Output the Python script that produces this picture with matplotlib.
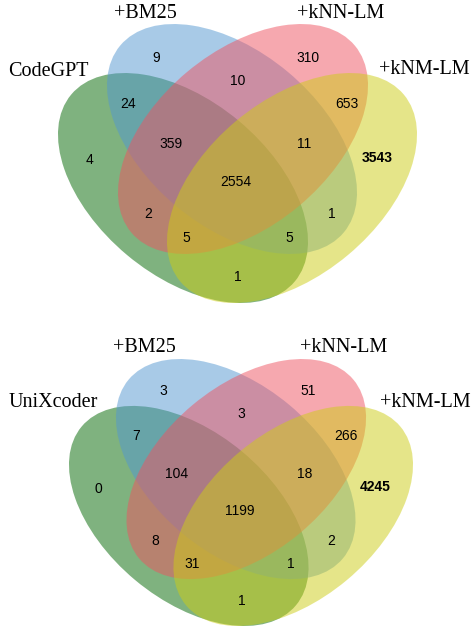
import matplotlib
matplotlib.use("Agg")
import matplotlib.pyplot as plt
from matplotlib.patches import Ellipse

# region keys: membership in (base model, +BM25, +kNN-LM, +kNM-LM)
REGIONS = ["1000", "0100", "0010", "0001", "1100", "0110", "0011", "1010",
           "0101", "1001", "1110", "0111", "1011", "1101", "1111"]

codegpt_counts = [4, 9, 310, 3543, 24, 10, 653, 2, 1, 1, 359, 11, 5, 5, 2554]
unixcoder_counts = [0, 3, 51, 4245, 7, 3, 266, 8, 2, 1, 104, 18, 31, 1, 1199]

set_names_codegpt = ["CodeGPT", "+BM25", "+kNN-LM", "+kNM-LM"]
set_names_unixcoder = ["UniXcoder", "+BM25", "+kNN-LM", "+kNM-LM"]

# ---------------------------------------------------------------------------
# 4-set ellipse layout (units ~ pixels of the top diagram, y up)
# ---------------------------------------------------------------------------
ELLIPSES = [  # (cx, cy, angle)
    (125.0, 115.0, 140.1),
    (174.0, 164.0, 140.1),
    (185.0, 164.0, 39.9),
    (234.0, 115.0, 39.9),
]
E_W, E_H = 2 * 145.7, 2 * 87.3
COLORS = ["#006600", "#5397d1", "#ef5361", "#cdcd15"]

LABEL_POS = {
    "1000": (31.0, 143.0), "0100": (98.0, 245.5), "0010": (249.5, 245.5),
    "0001": (319.3, 145.3), "1100": (70.0, 198.5), "0110": (180.0, 222.0),
    "0011": (289.0, 198.5), "1010": (90.2, 89.3), "0101": (274.0, 89.3),
    "1001": (180.0, 26.2), "1110": (112.5, 159.2), "0111": (246.0, 159.2),
    "1011": (128.7, 65.0), "1101": (231.2, 65.0), "1111": (178.2, 120.5),
}

XLIM = (0, 359)
YLIM = (0, 279)

W_PX, H_PX = 472, 627
fig = plt.figure(figsize=(W_PX / 100, H_PX / 100), dpi=100)


def panel(rect_px, counts, names, name_pos):
    x0, y0, x1, y1 = rect_px
    ax = fig.add_axes([x0 / W_PX, 1 - y1 / H_PX, (x1 - x0) / W_PX, (y1 - y0) / H_PX])
    ax.set_xlim(*XLIM)
    ax.set_ylim(*YLIM)
    ax.axis("off")
    for (cx, cy, ang), col in zip(ELLIPSES, COLORS):
        ax.add_patch(Ellipse((cx, cy), E_W, E_H, angle=ang, facecolor=col,
                             edgecolor="none", alpha=0.5))
    for key, val in zip(REGIONS, counts):
        x, y = LABEL_POS[key]
        ax.text(x, y, str(val), ha="center", va="center", fontsize=10,
                family="Liberation Sans", clip_on=False,
                fontweight="bold" if key == "0001" else "normal")
    for name, (x, y) in zip(names, name_pos):
        ax.text(x, y, name, ha="center", va="center", fontsize=14.5,
                family="Liberation Serif", clip_on=False)
    return ax


panel((58, 24, 417, 303), codegpt_counts, set_names_codegpt,
      [(-10, 231), (87, 289), (283, 289), (366, 233)])
panel((69, 359, 413, 626), unixcoder_counts, set_names_unixcoder,
      [(-16.7, 233.8), (78.8, 291.2), (287, 291.2), (371.6, 233.8)])

fig.savefig("out.png", dpi=100, facecolor="white")
